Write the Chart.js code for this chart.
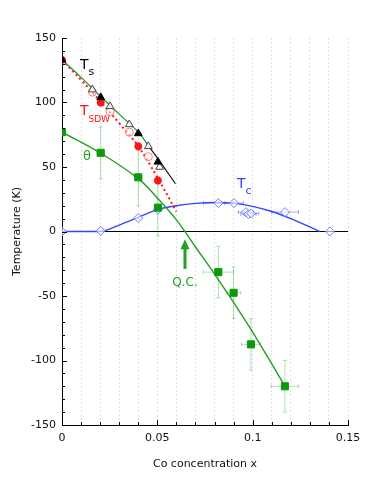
<!DOCTYPE html>
<html>
<head>
<meta charset="utf-8">
<script src="https://cdn.jsdelivr.net/npm/chart.js@4/dist/chart.umd.min.js"></script>
<style>
  html, body { margin: 0; padding: 0; background: #fff; }
  #wrap { width: 388px; height: 502px; }
</style>
</head>
<body>
<div id="wrap"><canvas id="c" width="388" height="502"></canvas></div>
<script>
// ──────────────── data ────────────────
// T_s : structural transition (filled / open triangles)
const tsX = [0, 0.0203, 0.04, 0.0503];
const tsY = [133, 104, 76, 54];
const tsOpenX = [0.0159, 0.0252, 0.0353, 0.0453, 0.0512];
const tsOpenY = [110, 97, 83, 66, 50];
const tsFitGreenX = [0, 0.01, 0.02, 0.03, 0.04, 0.046];
const tsFitGreenY = [133, 119.5, 105, 91, 77, 65];
const tsFitBlackX = [0.046, 0.05, 0.0595];
const tsFitBlackY = [65, 57, 37];

// T_SDW (filled / open circles)
const sdwX = [0, 0.0203, 0.04, 0.0503];
const sdwY = [133, 100, 66, 39.5];
const sdwXErr = [0, 0.0015, 0.0015, 0.0015];
const sdwYErr = [0, 3, 3, 3];
const sdwOpenX = [0.016, 0.0252, 0.0353, 0.0453];
const sdwOpenY = [108, 93, 77, 58];
const sdwFitX = [0, 0.01, 0.02, 0.03, 0.04, 0.05, 0.06];
const sdwFitY = [133, 117.5, 101, 84, 66, 42, 15.5];

// theta (squares)
const thetaX = [0, 0.0203, 0.04, 0.0503, 0.082, 0.09, 0.0991, 0.1169];
const thetaY = [77, 61, 42, 18.5, -31.5, -47.5, -87.5, -120];
const thetaXErr = [0, 0.002, 0.002, 0.0015, 0.0079, 0.0037, 0.005, 0.0072];
const thetaYErr = [0, 20, 22, 22, 20, 20, 20, 20];
const thetaFitX = [0, 0.02, 0.04, 0.05, 0.06, 0.07, 0.08, 0.09, 0.1, 0.117];
const thetaFitY = [77, 61, 41, 26, 9, -12, -33, -55, -78, -120];

// T_c (open diamonds)
const tcX = [0, 0.0203, 0.04, 0.0503, 0.082, 0.0902, 0.0965, 0.0978, 0.0992, 0.117, 0.1405];
const tcY = [0, 0.5, 10.5, 17, 22, 22, 15, 13.5, 14, 15, 0];
const tcXErr = [0, 0, 0, 0.0015, 0.0078, 0.005, 0.004, 0.004, 0.004, 0.007, 0];
const tcFitX = [0, 0.02, 0.03, 0.04, 0.05, 0.06, 0.07, 0.08, 0.09, 0.1, 0.11, 0.12, 0.13, 0.135];
const tcFitY = [0, 0, 5, 11, 17, 20, 21.8, 22.5, 22, 19.5, 15.5, 10, 3.5, 0];

const zeroX = [0, 0.15];
const zeroY = [0, 0];

const xMajor = [0, 0.05, 0.1, 0.15];
const yMajor = [-150, -100, -50, 0, 50, 100, 150];

// ──────────────── helpers ────────────────
const FONT = "'DejaVu Sans', sans-serif";
const pts = (xs, ys) => xs.map((x, i) => ({ x, y: ys[i] }));
const isMajor = (v, list) => list.some(m => Math.abs(m - v) < 1e-9);

const GREEN = '#23a023';
const GREEN_LT = 'rgba(60,180,60,0.4)';
const RED = '#ff1414';
const RED_LT = 'rgba(255,80,80,0.45)';
const BLUE = '#3047ff';
const BLUE_LT = 'rgba(80,100,255,0.55)';

// error bars drawn behind the markers
const errorBars = [
  { xs: thetaX, ys: thetaY, xe: thetaXErr, ye: thetaYErr, color: GREEN_LT },
  { xs: sdwX, ys: sdwY, xe: sdwXErr, ye: sdwYErr, color: RED_LT },
  { xs: tcX, ys: tcY, xe: tcXErr, ye: tcX.map(() => 0), color: BLUE_LT },
];

const errorBarPlugin = {
  id: 'errorBars',
  beforeDatasetsDraw(chart) {
    const { ctx, scales: { x, y } } = chart;
    ctx.save();
    ctx.lineWidth = 1;
    errorBars.forEach(s => {
      ctx.strokeStyle = s.color;
      s.xs.forEach((xv, i) => {
        const px = x.getPixelForValue(xv), py = y.getPixelForValue(s.ys[i]);
        if (s.ye[i]) {
          const t = y.getPixelForValue(s.ys[i] + s.ye[i]), b = y.getPixelForValue(s.ys[i] - s.ye[i]);
          ctx.beginPath();
          ctx.moveTo(px, t); ctx.lineTo(px, b);
          ctx.moveTo(px - 2, t); ctx.lineTo(px + 2, t);
          ctx.moveTo(px - 2, b); ctx.lineTo(px + 2, b);
          ctx.stroke();
        }
        if (s.xe[i]) {
          const l = x.getPixelForValue(xv - s.xe[i]), r = x.getPixelForValue(xv + s.xe[i]);
          ctx.beginPath();
          ctx.moveTo(l, py); ctx.lineTo(r, py);
          ctx.moveTo(l, py - 2); ctx.lineTo(l, py + 2);
          ctx.moveTo(r, py - 2); ctx.lineTo(r, py + 2);
          ctx.stroke();
        }
      });
    });
    ctx.restore();
  }
};

// inward ticks + labels + Q.C. arrow
const decorPlugin = {
  id: 'decor',
  afterDraw(chart) {
    const { ctx, scales: { x, y }, chartArea: a } = chart;
    ctx.save();
    ctx.strokeStyle = '#000';
    ctx.lineWidth = 1;
    ctx.beginPath();
    x.ticks.forEach(t => {
      const px = Math.round(x.getPixelForValue(t.value)) + 0.5;
      const len = isMajor(t.value, xMajor) ? 5 : 3;
      ctx.moveTo(px, a.bottom); ctx.lineTo(px, a.bottom - len);
    });
    y.ticks.forEach(t => {
      const py = Math.round(y.getPixelForValue(t.value)) + 0.5;
      const len = isMajor(t.value, yMajor) ? 5 : 3;
      ctx.moveTo(a.left, py); ctx.lineTo(a.left + len, py);
    });
    ctx.stroke();

    // series labels
    const label = (main, sub, xv, yv, color, size, subSize, dy) => {
      const px = x.getPixelForValue(xv), py = y.getPixelForValue(yv);
      ctx.fillStyle = color;
      ctx.textAlign = 'left';
      ctx.textBaseline = 'alphabetic';
      ctx.font = size + 'px ' + FONT;
      ctx.fillText(main, px, py);
      if (sub) {
        const w = ctx.measureText(main).width;
        ctx.font = subSize + 'px ' + FONT;
        ctx.fillText(sub, px + w, py + dy);
      }
    };
    label('T', 's', 0.0094, 126, '#000', 14, 11, 6);
    label('T', 'SDW', 0.0094, 90.5, RED, 14, 9, 7);
    label('θ', '', 0.011, 55.5, GREEN, 13, 0, 0);
    label('T', 'c', 0.0918, 33.7, BLUE, 14, 11, 6);

    // Q.C. arrow
    const ax = x.getPixelForValue(0.0645);
    const tip = y.getPixelForValue(-6), tail = y.getPixelForValue(-29);
    ctx.strokeStyle = GREEN;
    ctx.fillStyle = GREEN;
    ctx.lineWidth = 3;
    ctx.beginPath();
    ctx.moveTo(ax, tail); ctx.lineTo(ax, tip + 7);
    ctx.stroke();
    ctx.beginPath();
    ctx.moveTo(ax, tip); ctx.lineTo(ax - 4.5, tip + 10); ctx.lineTo(ax + 4.5, tip + 10);
    ctx.closePath();
    ctx.fill();
    ctx.font = '12px ' + FONT;
    ctx.textAlign = 'center';
    ctx.fillText('Q.C.', ax, y.getPixelForValue(-42));
    ctx.restore();
  }
};

// ──────────────── chart ────────────────
const line = (data, color, width, extra) => Object.assign({
  data, showLine: true, borderColor: color, borderWidth: width,
  pointRadius: 0, fill: false, tension: 0.4
}, extra || {});
const marks = (data, style, radius, fillColor, strokeColor, bw, extra) => Object.assign({
  data, showLine: false, pointStyle: style, pointRadius: radius,
  backgroundColor: fillColor, borderColor: strokeColor, borderWidth: bw
}, extra || {});

new Chart(document.getElementById('c'), {
  type: 'scatter',
  data: {
    datasets: [
      marks(pts(tsX, tsY), 'triangle', 4.5, '#000', '#000', 1, { order: 1 }),
      marks(pts(sdwX, sdwY), 'circle', 3.5, RED, RED, 1, { order: 2 }),
      marks(pts(thetaX, thetaY), 'rect', 5, '#0c9a0c', '#0c9a0c', 1, { order: 3 }),
      marks(pts(tcX, tcY), 'rectRot', 4.5, 'rgba(255,255,255,0.6)', '#6f80ff', 1, { order: 4 }),
      marks(pts(tsOpenX, tsOpenY), 'triangle', 4.5, 'rgba(255,255,255,0.8)', '#444', 1, { order: 5 }),
      marks(pts(sdwOpenX, sdwOpenY), 'circle', 4, 'rgba(255,255,255,0.5)', 'rgba(255,90,90,0.8)', 1, { order: 6 }),
      line(pts(tsFitBlackX, tsFitBlackY), '#111', 1.2, { order: 7 }),
      line(pts(tsFitGreenX, tsFitGreenY), '#2c8c2c', 1.2, { order: 8 }),
      line(pts(sdwFitX, sdwFitY), RED, 2, { order: 9, borderDash: [2, 3] }),
      line(pts(thetaFitX, thetaFitY), GREEN, 1.4, { order: 10 }),
      line(pts(tcFitX, tcFitY), BLUE, 1.4, { order: 11, cubicInterpolationMode: 'monotone' }),
      line(pts(zeroX, zeroY), '#000', 1, { order: 12, tension: 0 }),
    ]
  },
  options: {
    responsive: false,
    animation: false,
    events: [],
    layout: { padding: { left: 0, top: 38, right: 40, bottom: 0 } },
    plugins: { legend: { display: false }, tooltip: { enabled: false } },
    scales: {
      x: {
        type: 'linear', min: 0, max: 0.15,
        afterFit(s) { s.height = 77; },
        ticks: {
          stepSize: 0.01, autoSkip: false, maxRotation: 0, padding: 7,
          color: '#111', font: { family: FONT, size: 11 },
          callback: v => isMajor(v, xMajor) ? String(+v.toFixed(2)) : ''
        },
        grid: { color: '#e2e2e2', lineWidth: 1, drawTicks: false },
        border: { display: true, color: '#000', width: 1, dash: [2, 2] },
        title: { display: true, text: 'Co concentration x', color: '#111',
                 font: { family: FONT, size: 11 }, padding: { top: 0, bottom: 31 } }
      },
      y: {
        type: 'linear', min: -150, max: 150,
        afterFit(s) { s.width = 62; },
        ticks: {
          stepSize: 10, autoSkip: false, padding: 6,
          color: '#111', font: { family: FONT, size: 11 },
          callback: v => isMajor(v, yMajor) ? String(v) : ''
        },
        grid: { display: false, drawTicks: false },
        border: { display: true, color: '#000', width: 1 },
        title: { display: true, text: 'Temperature (K)', color: '#111',
                 font: { family: FONT, size: 11 }, padding: { top: 11, bottom: 0 } }
      }
    }
  },
  plugins: [errorBarPlugin, decorPlugin]
});
</script>
</body>
</html>
